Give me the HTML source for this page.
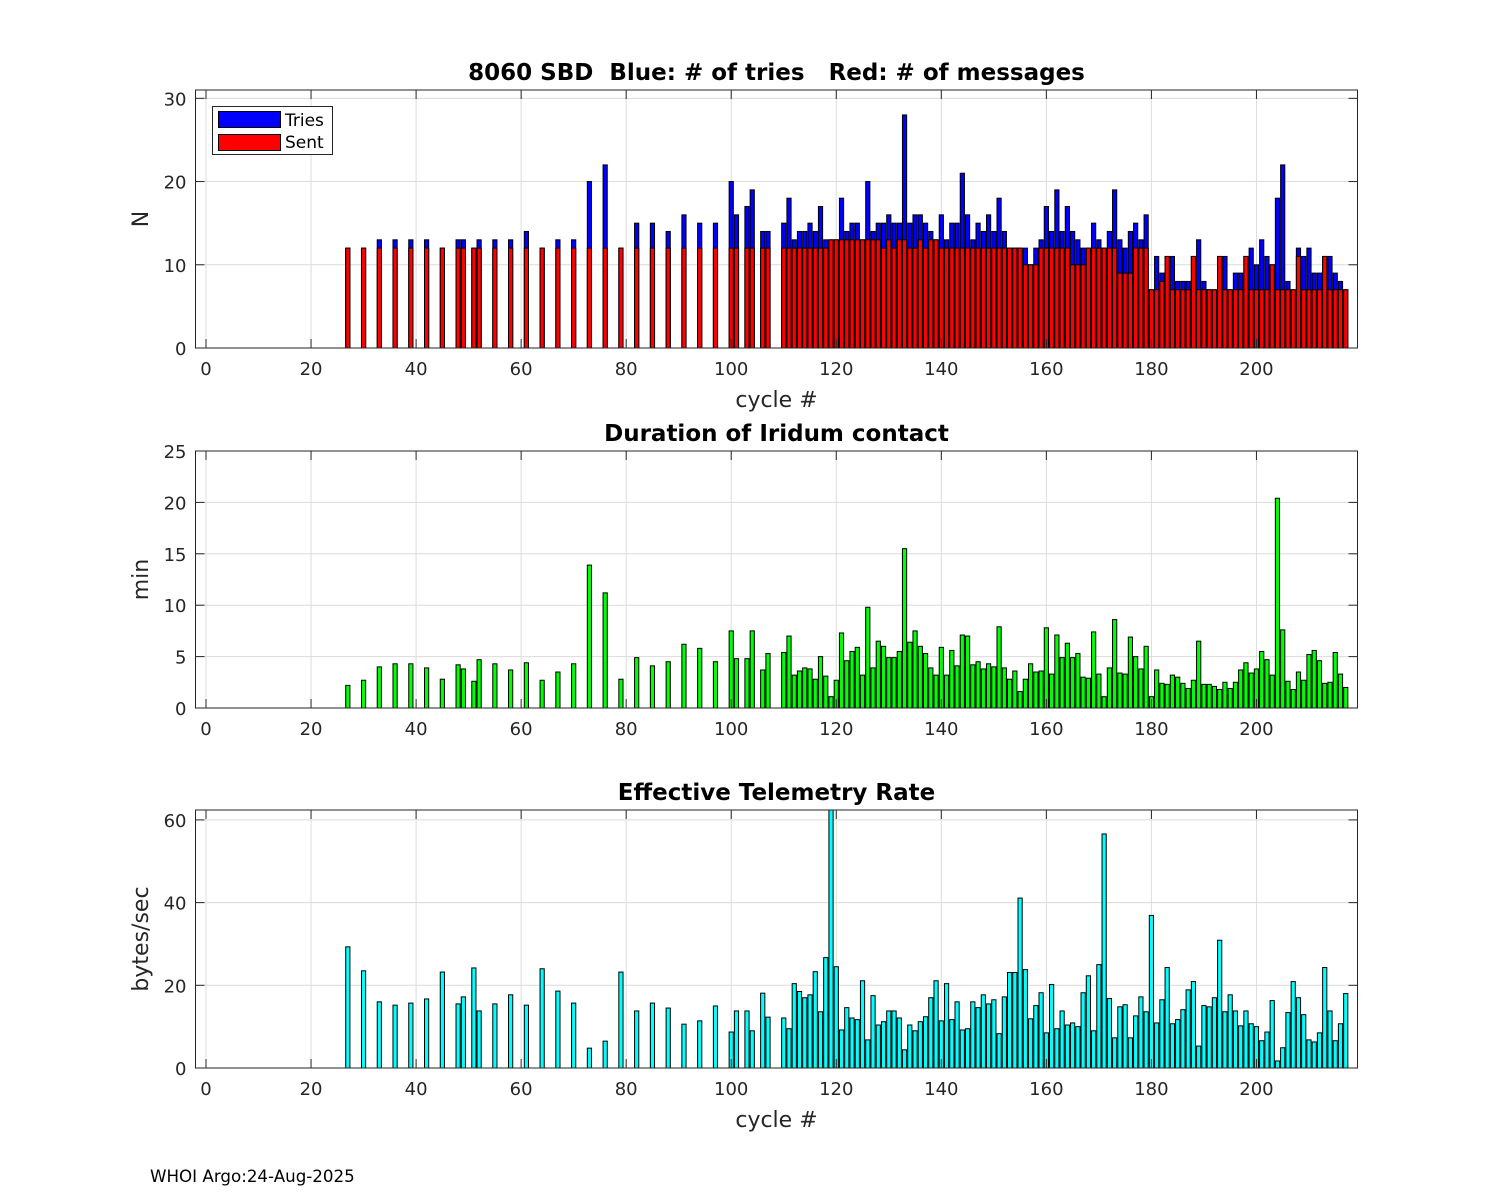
<!DOCTYPE html>
<html><head><meta charset="utf-8"><title>8060 SBD</title>
<style>
html,body{margin:0;padding:0;background:#fff;}
svg{display:block;font-family:"DejaVu Sans","Liberation Sans",sans-serif;}
svg text{white-space:pre;}
</style></head>
<body>
<svg id="fig" width="1500" height="1200" viewBox="0 0 1500 1200" xmlns="http://www.w3.org/2000/svg">
<rect x="0" y="0" width="1500" height="1200" fill="#fff"/>
<text x="150" y="1182" font-size="16.7" fill="#000">WHOI Argo:24-Aug-2025</text>
</svg>
<script>
const cycles = [27,30,33,36,39,42,45,48,49,51,52,55,58,61,64,67,70,73,76,79,82,85,88,91,94,97,100,101,103,104,106,107,
110,111,112,113,114,115,116,117,118,119,120,121,122,123,124,125,126,127,128,129,130,131,132,133,134,135,136,137,138,139,140,141,142,143,144,145,146,147,148,149,150,151,152,153,154,155,156,157,158,159,160,161,162,163,164,165,166,167,168,169,170,171,172,173,174,175,176,177,178,179,180,181,182,183,184,185,186,187,188,189,190,191,192,193,194,195,196,197,198,199,200,201,202,203,204,205,206,207,208,209,210,211,212,213,214,215,216,217];
const tries = [12,12,13,13,13,13,12,13,13,12,13,13,13,14,12,13,13,20,22,12,15,15,14,16,15,15,20,16,17,19,14,14,
15,18,13,14,14,15,14,17,13,13,13,18,14,15,15,13,20,14,15,15,16,15,15,28,15,16,16,15,14,13,16,13,15,15,21,16,13,15,14,16,14,18,14,12,12,12,12,10,12,13,17,14,19,14,17,14,13,12,12,15,13,12,14,19,13,12,14,15,13,16,7,11,9,11,11,8,8,8,11,13,8,7,7,11,11,7,9,9,11,12,10,13,11,10,18,22,8,7,12,11,12,9,9,11,11,9,8,7];
const sent = [12,12,12,12,12,12,12,12,12,12,12,12,12,12,12,12,12,12,12,12,12,12,12,12,12,12,12,12,12,12,12,12,
12,12,12,12,12,12,12,12,12,13,13,13,13,13,13,13,13,13,13,12,13,12,13,13,12,12,13,12,13,13,12,12,12,12,12,12,12,12,12,12,12,12,12,12,12,12,10,10,10,12,12,12,12,12,12,10,10,10,12,12,12,12,12,12,9,9,9,12,12,12,7,7,8,11,7,7,7,7,11,7,7,7,7,11,7,7,7,7,11,7,7,7,7,10,7,7,7,7,11,7,7,7,7,11,7,7,7,7];
const duration = [2.2,2.7,4.0,4.3,4.3,3.9,2.8,4.2,3.8,2.6,4.7,4.3,3.7,4.4,2.7,3.5,4.3,13.9,11.2,2.8,4.9,4.1,4.5,6.2,5.8,4.5,7.5,4.8,4.8,7.5,3.7,5.3,
5.4,7.0,3.2,3.6,3.9,3.8,2.8,5.0,3.1,1.1,2.7,7.3,4.6,5.5,5.9,3.2,9.8,3.9,6.5,6.0,4.9,4.9,5.5,15.5,6.4,7.5,6.0,5.3,3.9,3.2,5.9,3.2,5.6,4.1,7.1,7.0,4.2,4.5,3.8,4.3,4.0,7.9,3.9,2.8,3.6,1.6,2.8,4.3,3.5,3.6,7.8,3.3,7.1,4.9,6.3,4.9,5.3,3.0,2.9,7.4,3.3,1.1,3.9,8.6,3.4,3.3,6.9,5.0,3.8,6.0,1.1,3.7,2.4,2.3,3.2,3.0,2.4,1.9,2.7,6.5,2.3,2.3,2.1,1.8,2.5,1.9,2.5,3.7,4.4,3.4,3.8,5.5,4.7,3.2,20.4,7.6,2.6,1.8,3.5,2.7,5.2,5.6,4.6,2.4,2.5,5.4,3.3,2.0];
const rate = [29.3,23.5,16,15.2,15.7,16.7,23.2,15.5,17.2,24.2,13.8,15.5,17.7,15.2,24,18.6,15.7,4.8,6.5,23.2,13.8,15.7,14.5,10.6,11.4,15,8.7,13.8,13.8,9,18.1,12.3,
12.1,9.5,20.4,18.5,17.0,17.7,23.3,13.6,26.7,66,24.5,9.2,14.6,12.1,11.7,21.1,6.8,17.5,10.4,11.2,13.8,13.8,12.1,4.4,10.4,9.0,11.2,12.4,17.0,21.1,11.4,20.4,11.7,16.0,9.2,9.5,16.0,14.6,17.7,15.5,16.5,8.3,17.2,23.1,23.1,41.1,23.8,11.9,15.1,18.2,8.5,20.2,9.5,13.8,10.4,10.9,10.0,18.2,22.3,9.0,25.0,56.6,16.8,7.3,14.8,15.3,7.3,12.6,17.2,13.6,36.9,10.9,16.5,24.3,10.7,11.7,14.1,18.9,20.9,5.3,15.1,14.8,17.0,30.9,13.6,17.7,13.8,10.2,13.8,10.7,10.0,6.6,8.7,16.3,1.7,4.9,13.4,20.9,17.0,12.9,6.8,6.3,8.5,24.3,13.8,6.6,10.7,18.0];
const xTicks = [0,20,40,60,80,100,120,140,160,180,200];
const yTicksTop = [0,10,20,30];
const yTicksMid = [0,5,10,15,20,25];
const yTicksBot = [0,20,40,60];

const NS = "http://www.w3.org/2000/svg";
const svg = document.getElementById('fig');
const L = 195.5, R = 1357.5, XMIN = -2, XMAX = 219.24;
function x(c){ return L + (c - XMIN) / (XMAX - XMIN) * (R - L); }
const BW = 0.8 * (R - L) / (XMAX - XMIN);
function mk(tag, attrs, parent){ const e = document.createElementNS(NS, tag); for (const k in attrs) e.setAttribute(k, attrs[k]); (parent||svg).appendChild(e); return e; }

function panel(id, top, bot, ymax, yTicks){
  const g = mk('g', {});
  
  
  const y = v => bot - v / ymax * (bot - top);
  mk('rect', {x:L, y:top, width:R-L, height:bot-top, fill:'#fff'}, g);
  xTicks.forEach(t => mk('line', {x1:x(t), x2:x(t), y1:top, y2:bot, stroke:'#dcdcdc', 'stroke-width':1}, g));
  yTicks.forEach(t => mk('line', {x1:L, x2:R, y1:y(t), y2:y(t), stroke:'#dcdcdc', 'stroke-width':1}, g));
  const cp = mk('clipPath', {id:'clip-'+id}, g);
  mk('rect', {x:L, y:top, width:R-L, height:bot-top}, cp);
  const bars = mk('g', {'clip-path':'url(#clip-'+id+')'}, g);
  
  
  return {g, y, bars};
}
function finishPanel(p, id, top, bot, yTicks, title, ylab, showXlab){
  const g = p.g, y = p.y;
  mk('rect', {x:L, y:top, width:R-L, height:bot-top, fill:'none', stroke:'#262626', 'stroke-width':1}, g);
  xTicks.forEach(t => {
    mk('line', {x1:x(t), x2:x(t), y1:bot, y2:bot-9, stroke:'#262626'}, g);
    mk('line', {x1:x(t), x2:x(t), y1:top, y2:top+9, stroke:'#262626'}, g);
    const tl = mk('text', {x:x(t), y:bot+27, 'font-size':18, fill:'#262626', 'text-anchor':'middle'}, g);
    tl.textContent = t;
    
    
  });
  yTicks.forEach(t => {
    mk('line', {x1:L, x2:L+9, y1:y(t), y2:y(t), stroke:'#262626'}, g);
    mk('line', {x1:R, x2:R-9, y1:y(t), y2:y(t), stroke:'#262626'}, g);
    const tl = mk('text', {x:L-9, y:y(t)+7, 'font-size':18, fill:'#262626', 'text-anchor':'end'}, g);
    tl.textContent = t;
    
    
  });
  const tt = mk('text', {x:(L+R)/2, y:top-10, 'font-size':23, 'font-weight':'bold', fill:'#000', 'text-anchor':'middle', 'xml:space':'preserve'}, g);
  tt.textContent = title;
  
  
  const yl = mk('text', {x:0, y:0, 'font-size':22, fill:'#262626', 'text-anchor':'middle', transform:'translate(148,'+((top+bot)/2)+') rotate(-90)'}, g);
  yl.textContent = ylab;
  
  
  if (showXlab){
    const xl = mk('text', {x:(L+R)/2, y:bot+59, 'font-size':22, fill:'#262626', 'text-anchor':'middle'}, g);
    xl.textContent = 'cycle #';
    
    
  }
}
function bar(p, c, v, color, name){
  const yv = p.y(Math.max(0, v)), y0 = p.y(0);
  const r = mk('rect', {x:x(c)-BW/2, y:yv, width:BW, height:y0-yv, fill:color, stroke:'#000', 'stroke-width':1}, p.bars);
  
  
}

const pT = panel('tries', 90, 348, 31, yTicksTop);
cycles.forEach((c,i) => bar(pT, c, tries[i], '#0000ff', 'bar-tries-' + c));
cycles.forEach((c,i) => bar(pT, c, sent[i], '#ff0000', 'bar-sent-' + c));
finishPanel(pT, 'tries', 90, 348, yTicksTop, '8060 SBD  Blue: # of tries   Red: # of messages', 'N', true);

const lg = mk('g', {});


mk('rect', {x:212.5, y:106.5, width:120, height:48, fill:'#fff', stroke:'#262626'}, lg);
const le1 = mk('rect', {x:218.5, y:111.5, width:62, height:16, fill:'#0000ff', stroke:'#000'}, lg);


const lt1 = mk('text', {x:285, y:126, 'font-size':17, fill:'#000'}, lg); lt1.textContent = 'Tries';


const le2 = mk('rect', {x:218.5, y:134.5, width:62, height:16, fill:'#ff0000', stroke:'#000'}, lg);


const lt2 = mk('text', {x:285, y:148, 'font-size':17, fill:'#000'}, lg); lt2.textContent = 'Sent';



const pM = panel('duration', 451, 708, 25, yTicksMid);
cycles.forEach((c,i) => bar(pM, c, duration[i], '#00ff00', 'bar-duration-' + c));
finishPanel(pM, 'duration', 451, 708, yTicksMid, 'Duration of Iridum contact', 'min', false);

const pB = panel('rate', 810, 1068, 62.4, yTicksBot);
cycles.forEach((c,i) => bar(pB, c, rate[i], '#00ffff', 'bar-rate-' + c));
finishPanel(pB, 'rate', 810, 1068, yTicksBot, 'Effective Telemetry Rate', 'bytes/sec', true);
</script>
</body></html>
